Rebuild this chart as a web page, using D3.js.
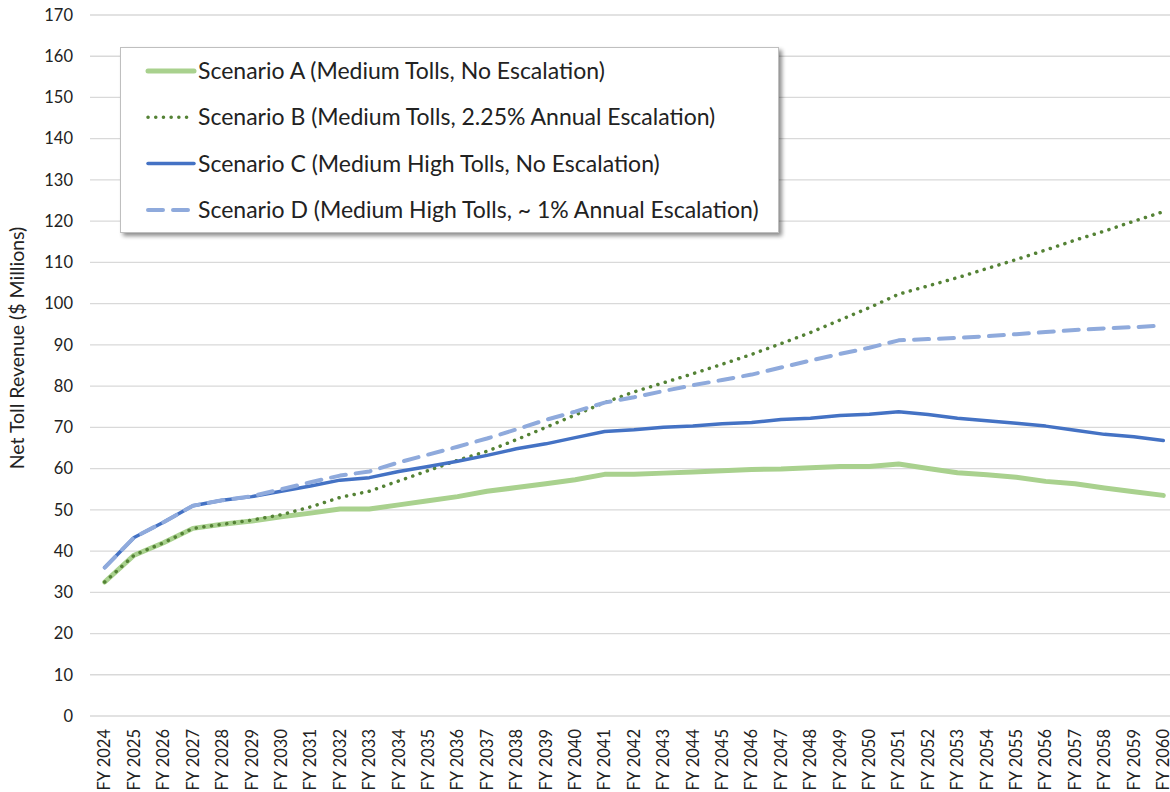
<!DOCTYPE html>
<html>
<head>
<meta charset="utf-8">
<script src="https://cdn.jsdelivr.net/npm/d3@7"></script>
<style>
  body { margin: 0; background: #fff; }
  text { font-family: Lato, "Open Sans", sans-serif; fill: #222; }
</style>
</head>
<body>
<div id="chart"></div>
<script>
// fiscal years on the x axis
const years = d3.range(2024, 2061).map(y => "FY " + y);

const scenarioA = [32.5, 39, 42, 45.5, 46.5, 47.3, 48.3, 49.2, 50.2, 50.2, 51.2, 52.2, 53.2, 54.5,
    55.4, 56.3, 57.3, 58.6, 58.6, 58.9, 59.2, 59.5, 59.8, 59.9, 60.2, 60.5, 60.5, 61.1,
    60.0, 59.0, 58.5, 57.9, 56.9, 56.3, 55.3, 54.4, 53.5];
const scenarioB = [32.5, 39, 42, 45.5, 46.5, 47.5, 48.8, 50.7, 53, 54.5, 57, 59.5, 62, 64.2,
    67, 70, 73, 76, 78.6, 80.8, 83, 85.3, 87.7, 90.3, 93, 96, 99, 102.3,
    104.3, 106.3, 108.5, 110.7, 113, 115.4, 117.6, 120, 122.3];
const scenarioC = [36, 43.3, 47, 51, 52.3, 53.2, 54.5, 55.8, 57.2, 57.8, 59.3, 60.5, 61.8, 63.2,
    64.8, 66, 67.5, 69, 69.4, 70, 70.3, 70.9, 71.2, 71.9, 72.2, 72.9, 73.2, 73.8,
    73.1, 72.2, 71.6, 71, 70.3, 69.3, 68.3, 67.7, 66.8];
const scenarioD = [36, 43.3, 47, 51, 52.3, 53.3, 55, 56.7, 58.3, 59.3, 61.5, 63.4, 65.3, 67.3,
    69.5, 71.8, 73.8, 76, 77.3, 78.8, 80.2, 81.5, 82.8, 84.5, 86.2, 87.8, 89.3, 91.1,
    91.4, 91.7, 92.1, 92.6, 93.1, 93.6, 94, 94.3, 94.7];

const seriesNames = [
    "Scenario A (Medium Tolls, No Escalation)",
    "Scenario B (Medium Tolls, 2.25% Annual Escalation)",
    "Scenario C (Medium High Tolls, No Escalation)",
    "Scenario D (Medium High Tolls, ~ 1% Annual Escalation)"
];
const yTicks = d3.range(0, 171, 10);

const series = [
    {name: seriesNames[0], values: scenarioA, color: "#a9d18e", width: 5, dash: null},
    {name: seriesNames[1], values: scenarioB, color: "#548235", width: 3.5, dash: "0.1 7.6"},
    {name: seriesNames[2], values: scenarioC, color: "#4472c4", width: 3.5, dash: null},
    {name: seriesNames[3], values: scenarioD, color: "#8faadc", width: 4, dash: "15 10"}
];

const width = 1170, height = 792;
const svg = d3.select("#chart").append("svg")
    .attr("width", width)
    .attr("height", height);

const x = d3.scaleBand().domain(years).range([90, 1178]).padding(0);
const y = d3.scaleLinear().domain([0, 170]).range([716, 15]);
const cx = d => x(d) + x.bandwidth() / 2;

// soft shadow for the legend box
const shadow = svg.append("defs").append("filter")
    .attr("id", "shadow")
    .attr("x", "-5%").attr("y", "-10%")
    .attr("width", "115%").attr("height", "130%");
shadow.append("feGaussianBlur").attr("in", "SourceAlpha").attr("stdDeviation", 2.2);
shadow.append("feOffset").attr("dx", 3).attr("dy", 3).attr("result", "blur");
shadow.append("feComponentTransfer").append("feFuncA").attr("type", "linear").attr("slope", 0.45);
const merge = shadow.append("feMerge");
merge.append("feMergeNode");
merge.append("feMergeNode").attr("in", "SourceGraphic");

// gridlines
svg.append("g")
    .selectAll("line")
    .data(yTicks)
    .join("line")
    .attr("x1", 90).attr("x2", width)
    .attr("y1", d => y(d)).attr("y2", d => y(d))
    .attr("stroke", "#d9d9d9")
    .attr("stroke-width", 1.3);

// y axis labels
const yAxis = svg.append("g")
    .attr("transform", "translate(81,0)")
    .call(d3.axisLeft(y).tickValues(yTicks).tickSize(0).tickPadding(8));
yAxis.select(".domain").remove();
yAxis.selectAll("text")
    .style("font-family", "Lato, sans-serif")
    .style("font-size", "16.5px")
    .attr("fill", "#222");

// x axis labels
const xAxis = svg.append("g")
    .attr("transform", "translate(0,716)")
    .call(d3.axisBottom(x).tickSize(0));
xAxis.select(".domain").remove();
xAxis.selectAll("text")
    .style("font-family", "Lato, sans-serif")
    .style("font-size", "16.5px")
    .attr("fill", "#222")
    .attr("text-anchor", "end")
    .attr("transform", "rotate(-90)")
    .attr("x", -13)
    .attr("y", 0)
    .attr("dy", "0.35em");

// y axis title
svg.append("text")
    .attr("transform", "translate(24,348) rotate(-90)")
    .attr("text-anchor", "middle")
    .style("font-size", "19.5px")
    .text("Net Toll Revenue ($ Millions)");

const line = d3.line()
    .x((d, i) => cx(years[i]))
    .y(d => y(d));

svg.append("g")
    .selectAll("path")
    .data(series)
    .join("path")
    .attr("d", d => line(d.values))
    .attr("fill", "none")
    .attr("stroke", d => d.color)
    .attr("stroke-width", d => d.width)
    .attr("stroke-dasharray", d => d.dash)
    .attr("stroke-linecap", "round")
    .attr("stroke-linejoin", "round");

// legend
const legend = svg.append("g");
legend.append("rect")
    .attr("x", 120.5).attr("y", 47.5)
    .attr("width", 658).attr("height", 185)
    .attr("fill", "#fff")
    .attr("stroke", "#bfbfbf")
    .attr("filter", "url(#shadow)");

const rows = legend.selectAll("g.row")
    .data(series)
    .join("g")
    .attr("class", "row")
    .attr("transform", (d, i) => `translate(0,${71 + i * 46.3})`);
rows.append("line")
    .attr("x1", 148).attr("x2", 194)
    .attr("stroke", d => d.color)
    .attr("stroke-width", d => d.width)
    .attr("stroke-dasharray", d => d.dash)
    .attr("stroke-linecap", "round");
rows.append("text")
    .attr("x", 198)
    .attr("dy", "0.35em")
    .style("font-size", "23px")
    .text(d => d.name);
</script>
</body>
</html>
